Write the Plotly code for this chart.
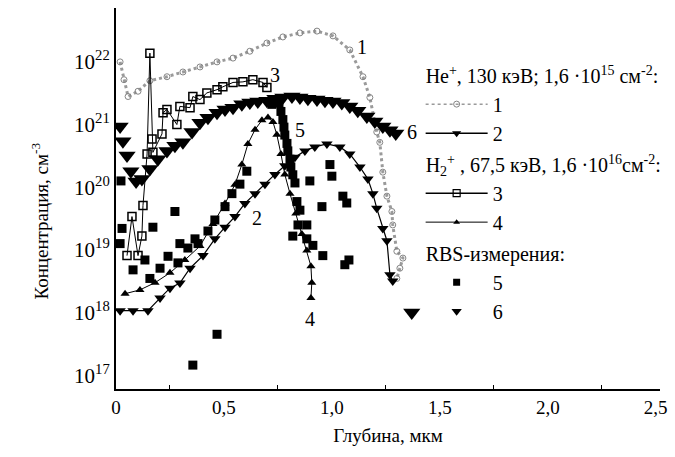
import math
import plotly.graph_objects as go

# Curve 1: He+ simulation (dotted, open circles)
depth1 = [0.019, 0.037, 0.056, 0.102, 0.157, 0.236, 0.31, 0.389, 0.468, 0.542, 0.62, 0.699, 0.773,
          0.852, 0.931, 1.005, 1.083, 1.144, 1.176, 1.208, 1.222, 1.236, 1.255, 1.278, 1.282, 1.301,
          1.329, 1.315, 1.301]
conc1 = [1.0e22, 5.2e21, 2.8e21, 3.4e21, 5.0e21, 5.8e21, 6.9e21, 8.3e21, 1.0e22, 1.15e22, 1.48e22,
         2.0e22, 2.5e22, 2.9e22, 3.1e22, 2.6e22, 1.55e22, 5.8e21, 2.7e21, 7.6e20, 5.2e20, 1.74e20,
         7.2e19, 4.1e19, 2.5e19, 9.5e18, 7.4e18, 5.1e18, 3.5e18]

# Curve 2: He+ simulation (line + down triangles)
depth2 = [0.019, 0.079, 0.148, 0.204, 0.25, 0.296, 0.343, 0.403, 0.458, 0.505, 0.551, 0.597, 0.644,
          0.69, 0.736, 0.782, 0.829, 0.875, 0.921, 0.977, 1.037, 1.083, 1.13, 1.167, 1.19, 1.208,
          1.236, 1.255, 1.269, 1.282]
conc2 = [1.07e18, 1.07e18, 1.07e18, 1.7e18, 2.45e18, 2.95e18, 5.1e18, 8.1e18, 1.5e19, 2.3e19, 3.4e19,
         5.5e19, 7.9e19, 1.12e20, 1.6e20, 2.2e20, 3.0e20, 3.8e20, 4.4e20, 4.9e20, 4.4e20, 3.4e20,
         2.1e20, 1.35e20, 7.9e19, 4.6e19, 2.2e19, 1.4e19, 4.0e18, 3.2e18]

# Curve 3: H2+ simulation (line + open squares)
depth3 = [0.051, 0.074, 0.102, 0.120, 0.125, 0.144, 0.157, 0.167, 0.171, 0.213, 0.218, 0.236, 0.282,
          0.296, 0.343, 0.356, 0.389, 0.421, 0.468, 0.495, 0.542, 0.588, 0.634, 0.681, 0.699]
conc3 = [8.1e18, 3.4e19, 8.1e18, 1.66e19, 5.1e19, 3.4e20, 1.38e22, 5.9e20, 3.6e20, 7.1e20, 1.55e21,
         1.74e21, 1.0e21, 1.95e21, 1.86e21, 2.8e21, 2.5e21, 3.2e21, 3.6e21, 4.0e21, 4.7e21, 4.8e21,
         5.2e21, 4.7e21, 3.9e21]

# Curve 4: H2+ simulation (line + up triangles)
depth4 = [0.042, 0.111, 0.181, 0.25, 0.319, 0.389, 0.449, 0.505, 0.551, 0.583, 0.611, 0.644, 0.676,
          0.704, 0.727, 0.745, 0.764, 0.782, 0.806, 0.833, 0.861, 0.884, 0.903, 0.907, 0.903]
conc4 = [2.0e18, 2.3e18, 3.0e18, 4.3e18, 6.9e18, 1.15e19, 2.6e19, 5.5e19, 1.1e20, 2.3e20, 4.9e20,
         8.3e20, 1.17e21, 1.3e21, 1.1e21, 6.9e20, 3.4e20, 1.6e20, 7.9e19, 3.8e19, 1.8e19, 9.8e18,
         5.5e18, 3.0e18, 1.7e18]

# Curve 5: RBS measurements (filled squares)
depth5 = [0.019, 0.023, 0.028, 0.079, 0.134, 0.157, 0.171, 0.204, 0.241, 0.273, 0.287, 0.296, 0.333,
          0.356, 0.366, 0.38, 0.426, 0.458, 0.468, 0.505, 0.537, 0.574, 0.606,
          0.722, 0.741, 0.755, 0.764,
          0.773, 0.778, 0.782, 0.792, 0.796, 0.806, 0.81, 0.819, 0.829, 0.838, 0.852, 0.843, 0.884,
          0.819, 0.884, 0.912, 0.958, 0.898, 0.991, 1.0, 0.954, 1.051, 1.069, 1.06, 1.079]
conc5 = [1.26e19, 1.26e20, 2.2e19, 4.8e18, 6.9e18, 3.5e18, 2.3e19, 5.1e18, 7.9e18, 4.1e19, 6.2e18,
         1.26e19, 1.07e19, 1.45e17, 1.5e19, 1.26e19, 2.0e19, 3.0e19, 4.5e17, 4.9e19, 7.9e19, 1.12e20,
         1.8e20,
         2.1e21, 2.5e21, 2.2e21, 1.62e21,
         1.2e21, 9.1e20, 6.8e20, 5.0e20, 3.8e20, 2.8e20, 2.1e20, 1.58e20, 1.17e20,
         5.9e19, 4.3e19, 2.5e19, 2.5e19, 1.66e19, 1.5e19, 1.18e19, 8.1e18, 1.26e20, 2.3e20, 1.5e20,
         4.9e19, 7.2e19, 5.6e19, 5.8e18, 6.9e18]

# Curve 6: RBS measurements (filled down triangles)
depth6 = [0.019, 0.032, 0.051, 0.069, 0.093, 0.12, 0.157, 0.194, 0.236, 0.273, 0.31, 0.352, 0.389,
          0.426, 0.468, 0.505, 0.542, 0.583, 0.62, 0.657, 0.699, 0.736, 0.773, 0.815, 0.852, 0.889,
          0.931, 0.968, 1.005, 1.046, 1.083, 1.12, 1.162, 1.199, 1.236, 1.269, 1.296, 1.37]
conc6 = [9.3e20, 5.4e20, 3.2e20, 1.8e20, 1.23e20, 1.35e20, 1.95e20, 2.8e20, 3.8e20, 4.6e20, 5.2e20,
         7.6e20, 1.07e21, 1.29e21, 1.55e21, 1.74e21, 1.86e21, 2.1e21, 2.24e21, 2.34e21, 2.4e21,
         2.57e21, 2.7e21, 2.8e21, 2.7e21, 2.57e21, 2.5e21, 2.4e21, 2.34e21, 2.2e21, 1.95e21, 1.66e21,
         1.35e21, 1.12e21, 9.3e20, 8.1e20, 7.2e20, 1.0e18]

x_tickvals = [0, 0.5, 1.0, 1.5, 2.0, 2.5]
x_ticktext = ["0", "0,5", "1,0", "1,5", "2,0", "2,5"]
x_minor = [0.25, 0.75, 1.25, 1.75, 2.25]
y_tickvals = [1e17, 1e18, 1e19, 1e20, 1e21, 1e22]
y_ticktext = ["10<sup>17</sup>", "10<sup>18</sup>", "10<sup>19</sup>", "10<sup>20</sup>",
              "10<sup>21</sup>", "10<sup>22</sup>"]

# curve labels: (text, depth, concentration)
curve_labels = [("1", 1.14, 1.7e22), ("3", 0.736, 6.2e21), ("5", 0.852, 8.3e20),
                ("6", 1.37, 7.6e20), ("2", 0.653, 3.2e19), ("4", 0.898, 7.8e17)]

FONT = "Liberation Serif"
g_he = "He<sup>+</sup>, 130 кэВ; 1,6 ·10<sup>15</sup> см<sup>-2</sup>:"
g_h2 = "H<sub>2</sub><sup>+</sup> , 67,5 кэВ, 1,6 ·10<sup>16</sup>см<sup>-2</sup>:"
g_rbs = "RBS-измерения:"

fig = go.Figure()

# data traces (not in legend)
fig.add_trace(go.Scatter(x=depth1, y=conc1, mode="lines+markers", showlegend=False,
                         line=dict(color="#9a9a9a", width=3, dash="dot"),
                         marker=dict(symbol="circle-open", size=6, color="#858585",
                                     line=dict(width=1))))
fig.add_trace(go.Scatter(x=depth2, y=conc2, mode="lines+markers", showlegend=False,
                         line=dict(color="black", width=1.2),
                         marker=dict(symbol="triangle-down", size=10, color="black")))
fig.add_trace(go.Scatter(x=depth3, y=conc3, mode="lines+markers", showlegend=False,
                         line=dict(color="black", width=1),
                         marker=dict(symbol="square-open", size=8, color="black",
                                     line=dict(width=1.5))))
fig.add_trace(go.Scatter(x=depth4, y=conc4, mode="lines+markers", showlegend=False,
                         line=dict(color="black", width=1),
                         marker=dict(symbol="triangle-up", size=8, color="black")))
fig.add_trace(go.Scatter(x=depth5, y=conc5, mode="markers", showlegend=False,
                         marker=dict(symbol="square", size=9, color="black")))
fig.add_trace(go.Scatter(x=depth6, y=conc6, mode="markers", showlegend=False,
                         marker=dict(symbol="triangle-down", size=15, color="black")))

# legend entries (no data, only legend symbols)
fig.add_trace(go.Scatter(x=[None], y=[None], mode="lines+markers", name="1",
                         legendgroup="he", legendgrouptitle=dict(text=g_he),
                         line=dict(color="#9a9a9a", width=1.5, dash="dot"),
                         marker=dict(symbol="circle-open", size=6, color="#858585")))
fig.add_trace(go.Scatter(x=[None], y=[None], mode="lines+markers", name="2",
                         legendgroup="he",
                         line=dict(color="black", width=1.5),
                         marker=dict(symbol="triangle-down", size=8, color="black")))
fig.add_trace(go.Scatter(x=[None], y=[None], mode="lines+markers", name="3",
                         legendgroup="h2", legendgrouptitle=dict(text=g_h2),
                         line=dict(color="black", width=1.5),
                         marker=dict(symbol="square-open", size=7, color="black",
                                     line=dict(width=1.2))))
fig.add_trace(go.Scatter(x=[None], y=[None], mode="lines+markers", name="4",
                         legendgroup="h2",
                         line=dict(color="black", width=1),
                         marker=dict(symbol="triangle-up", size=6, color="black")))
fig.add_trace(go.Scatter(x=[None], y=[None], mode="markers", name="5",
                         legendgroup="rbs", legendgrouptitle=dict(text=g_rbs),
                         marker=dict(symbol="square", size=7, color="black")))
fig.add_trace(go.Scatter(x=[None], y=[None], mode="markers", name="6",
                         legendgroup="rbs",
                         marker=dict(symbol="triangle-down", size=9, color="black")))

for txt, xv, yv in curve_labels:
    fig.add_annotation(x=xv, y=math.log10(yv), xref="x", yref="y", text=txt, showarrow=False,
                       font=dict(family=FONT, size=20, color="black"))

fig.add_annotation(x=-0.165, y=0.44, xref="paper", yref="paper", textangle=-90,
                   text="Концентрация, см<sup>-3</sup>", showarrow=False,
                   font=dict(family=FONT, size=19, color="black"))

fig.update_layout(
    width=675, height=457,
    margin=dict(l=116, r=15, t=8, b=68, autoexpand=False),
    paper_bgcolor="white", plot_bgcolor="white",
    font=dict(family=FONT, color="black", size=19),
    showlegend=True,
    legend=dict(x=0.56, y=0.875, xanchor="left", yanchor="top", bgcolor="rgba(0,0,0,0)",
                font=dict(family=FONT, size=20), tracegroupgap=2, traceorder="grouped",
                itemwidth=62, grouptitlefont=dict(family=FONT, size=20)),
    xaxis=dict(range=[0, 2.52], showline=True, linecolor="black", linewidth=2,
               showgrid=False, zeroline=False, tickvals=x_tickvals, ticktext=x_ticktext,
               ticks="", tickfont=dict(size=19),
               minor=dict(tickvals=x_minor, ticks="inside", ticklen=4, tickcolor="black"),
               title=dict(text="Глубина, мкм", font=dict(size=19), standoff=12),
               automargin=False),
    yaxis=dict(type="log", range=[16.78, 22.86], showline=True, linecolor="black", linewidth=2,
               showgrid=False, zeroline=False, tickvals=y_tickvals, ticktext=y_ticktext,
               ticks="", tickfont=dict(size=21), automargin=False),
)

fig.write_html("out.html")
